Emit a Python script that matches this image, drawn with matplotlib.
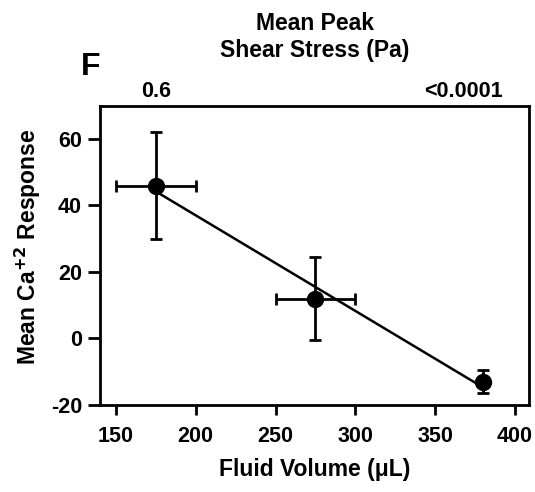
import numpy as np
import matplotlib
matplotlib.use("Agg")
import matplotlib.pyplot as plt

# values
volume = [175, 275, 380]          # Fluid Volume (uL)
response = [46, 12, -13]          # Mean Ca+2 response
response_err = [16, 12.5, 3.5]
volume_err = [25, 25, 0]
stress_pos = [175, 368]           # where the shear stress labels sit on the top axis
stress_labels = ['0.6', '<0.0001']

plt.rcParams['font.family'] = ['Liberation Sans', 'DejaVu Sans']
plt.rcParams['font.weight'] = 'bold'
plt.rcParams['axes.unicode_minus'] = False

fig = plt.figure(figsize=(5.35, 4.92), dpi=100)
ax = fig.add_axes([0.187, 0.177, 0.802, 0.608])

# regression line through the three means
slope, icpt = np.polyfit(volume, response, 1)
xs = np.array([volume[0], volume[-1]])
ax.plot(xs, slope * xs + icpt, color='black', lw=1.8, zorder=2)

ax.errorbar(volume, response, yerr=response_err, xerr=volume_err,
            fmt='o', color='black', ms=11.5, elinewidth=2,
            capsize=4.5, capthick=2, zorder=3)

ax.set_xlim(140, 409)
ax.set_ylim(-20, 70)
ax.set_xticks([150, 200, 250, 300, 350, 400])
ax.set_yticks([-20, 0, 20, 40, 60])
ax.tick_params(axis='both', labelsize=15.5, width=2, direction='out')
ax.tick_params(axis='x', length=7, pad=8)
ax.tick_params(axis='y', length=9, pad=4)
for s in ax.spines.values():
    s.set_linewidth(2)

ax.set_xlabel('Fluid Volume (\u03bcL)', fontsize=16.5, fontweight='bold', labelpad=8)
ax.set_ylabel('Mean Ca$^{\\mathbf{+2}}$ Response', fontsize=16.5, fontweight='bold')
ax.yaxis.set_label_coords(-0.133, 0.53)

# top axis with shear stress values
top = ax.twiny()
top.set_xlim(ax.get_xlim())
top.set_xticks(stress_pos)
top.set_xticklabels(stress_labels)
top.tick_params(axis='x', length=0, labelsize=15.5, pad=3)
top.set_xlabel('Mean Peak\nShear Stress (Pa)', fontsize=16.5, fontweight='bold', labelpad=17)

fig.text(0.152, 0.863, 'F', fontsize=23, fontweight='bold', ha='left', va='center')

fig.savefig('out.png', dpi=100)
